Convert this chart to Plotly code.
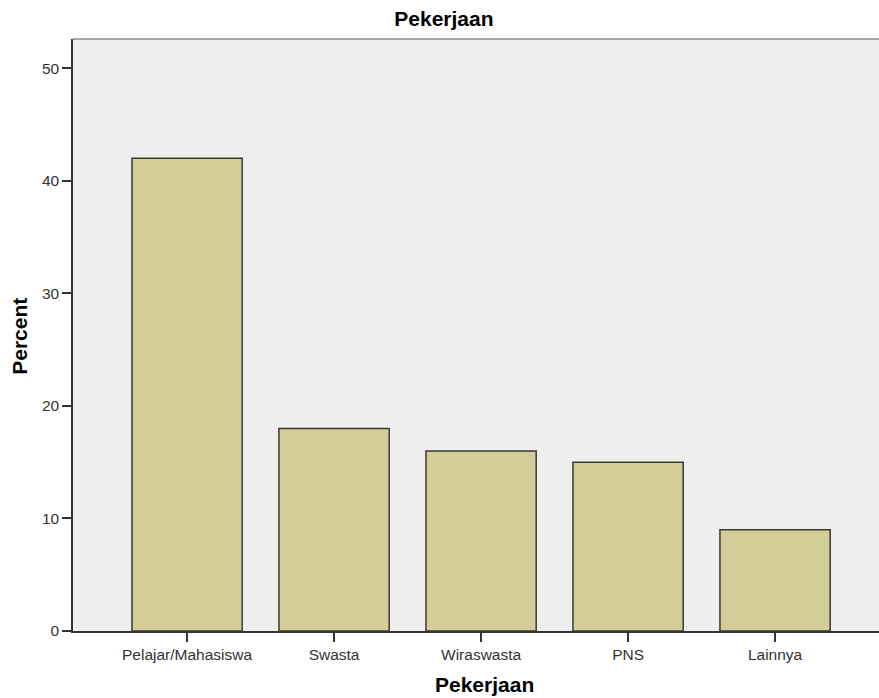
import plotly.graph_objects as go

categories = ["Pelajar/Mahasiswa", "Swasta", "Wiraswasta", "PNS", "Lainnya"]
percent = [42, 18, 16, 15, 9]
y_ticks = [0, 10, 20, 30, 40, 50]

fig = go.Figure()
fig.add_trace(go.Bar(
    x=categories, y=percent,
    width=0.75,
    marker=dict(color="#d3ce98", line=dict(color="#3a3a30", width=1.5)),
    hoverinfo="x+y",
))

fig.update_layout(
    width=879, height=698,
    margin=dict(l=73, r=0, t=39, b=67, autoexpand=False),
    paper_bgcolor="white",
    plot_bgcolor="#efefef",
    font=dict(family="Arial, Liberation Sans, sans-serif", size=15, color="#333333"),
    title=dict(text="<b>Pekerjaan</b>", x=0.505, xanchor="center",
               yref="container", y=1 - 19 / 698, yanchor="middle",
               font=dict(size=21, color="black")),
    showlegend=False,
)
fig.update_xaxes(
    type="category",
    range=[-0.776, 4.707],
    showline=True, linecolor="#333333", linewidth=1.5,
    ticks="outside", ticklen=9, tickcolor="#333333", tickwidth=1.5,
    tickfont=dict(size=15.5, color="#333333"),
    showgrid=False, zeroline=False,
)
fig.update_yaxes(
    range=[0, 52.6],
    tickvals=y_ticks,
    showline=True, linecolor="#333333", linewidth=1.5,
    ticks="outside", ticklen=9, tickcolor="#333333", tickwidth=1.5,
    tickfont=dict(size=15.5, color="#333333"),
    showgrid=False, zeroline=False,
)
fig.add_shape(type="line", xref="paper", yref="paper", x0=0, x1=1, y0=1, y1=1,
              line=dict(color="#8a8a8a", width=1.5))

fig.add_annotation(text="<b>Pekerjaan</b>", xref="paper", yref="paper",
                   x=0.51, y=0, xanchor="center", yanchor="middle", yshift=-53,
                   showarrow=False, font=dict(size=21, color="black"))
fig.add_annotation(text="<b>Percent</b>", xref="paper", yref="paper",
                   x=0, y=0.497, xanchor="center", yanchor="middle", xshift=-53,
                   textangle=-90, showarrow=False, font=dict(size=21, color="black"))

fig.write_html(
    "out.html",
    config={"displayModeBar": False},
    post_script="document.body.style.margin='0px';document.body.style.overflow='hidden';",
)
